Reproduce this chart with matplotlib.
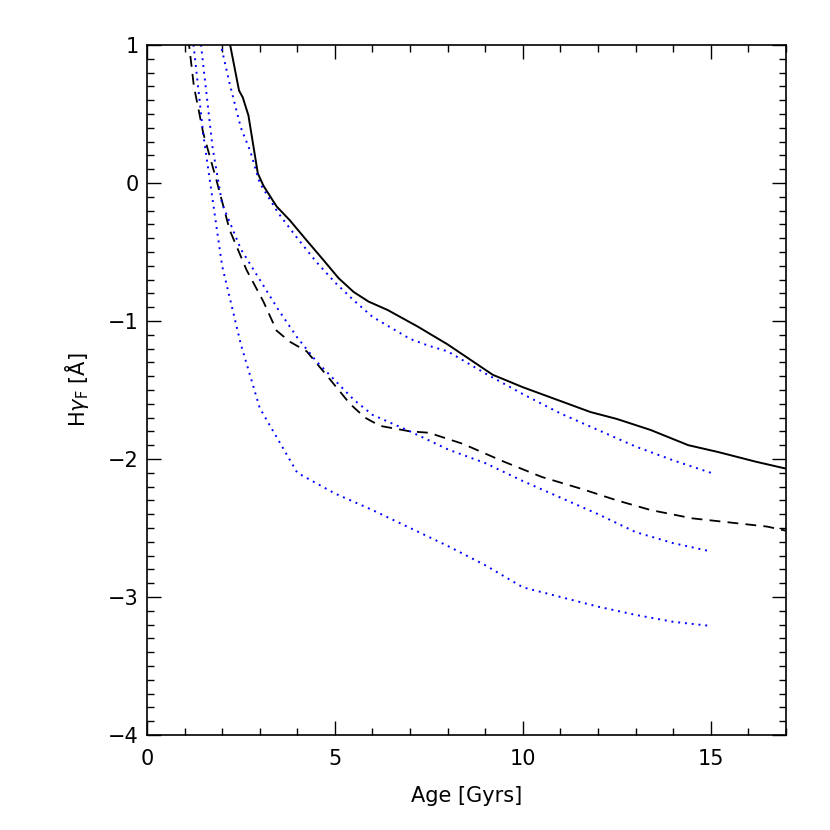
import numpy as np
import matplotlib
matplotlib.use("Agg")
import matplotlib.pyplot as plt
from matplotlib.ticker import MultipleLocator

# modele principal (trait plein)
age_solid = [2.2, 2.45, 2.55, 2.7, 2.95, 3.1, 3.45, 3.8, 4.2, 4.7, 5.1, 5.5, 5.9, 6.4,
             7.2, 8.0, 8.6, 9.2, 10.0, 11.0, 11.8, 12.5, 13.4, 14.4, 15.2, 16.2, 17.0, 17.5]
hg_solid = [1.02, 0.67, 0.62, 0.49, 0.07, -0.02, -0.17, -0.27, -0.40, -0.56, -0.69, -0.79,
            -0.86, -0.92, -1.04, -1.17, -1.28, -1.39, -1.48, -1.58, -1.66, -1.71, -1.79,
            -1.90, -1.95, -2.02, -2.07, -2.10]

# modele tirets
age_dash = [1.1, 1.25, 1.5, 1.85, 2.2, 2.65, 3.1, 3.45, 3.8, 4.25, 4.8, 5.4, 5.8, 6.2,
            7.0, 7.5, 8.4, 9.5, 10.5, 11.6, 12.5, 13.4, 14.5, 15.5, 16.5, 17.0, 17.5]
hg_dash = [1.05, 0.70, 0.36, 0.02, -0.34, -0.63, -0.86, -1.07, -1.15, -1.22, -1.40, -1.60,
           -1.70, -1.76, -1.80, -1.81, -1.89, -2.02, -2.13, -2.22, -2.30, -2.37, -2.43,
           -2.46, -2.49, -2.52, -2.54]

# trois courbes pointillees bleues
age_dot_hi = [1.95, 2.2, 2.5, 2.75, 3.0, 3.5, 4.0, 4.5, 5.0, 5.5, 6.0, 6.5, 7.0, 7.5, 8.0,
              9.0, 10.0, 11.0, 12.0, 13.0, 14.0, 15.0]
hg_dot_hi = [1.02, 0.72, 0.40, 0.23, 0.0, -0.22, -0.40, -0.57, -0.72, -0.85, -0.97, -1.05,
             -1.13, -1.18, -1.22, -1.38, -1.53, -1.67, -1.79, -1.91, -2.01, -2.10]

age_dot_mid = [1.4, 1.5, 1.75, 2.0, 2.5, 3.0, 3.5, 4.0, 4.5, 5.0, 5.5, 6.0, 7.0, 8.0, 9.0,
               10.0, 11.0, 12.0, 13.0, 14.0, 15.0]
hg_dot_mid = [1.1, 0.85, 0.25, -0.15, -0.48, -0.70, -0.92, -1.12, -1.29, -1.43, -1.57,
              -1.68, -1.80, -1.93, -2.03, -2.16, -2.28, -2.40, -2.53, -2.61, -2.67]

age_dot_lo = [1.2, 1.5, 2.0, 2.5, 3.0, 4.0, 5.0, 6.0, 7.0, 8.0, 9.0, 9.5, 10.0, 11.0,
              12.0, 13.0, 14.0, 15.0]
hg_dot_lo = [1.1, 0.35, -0.60, -1.17, -1.63, -2.10, -2.25, -2.37, -2.50, -2.63, -2.77,
             -2.85, -2.93, -3.00, -3.07, -3.13, -3.18, -3.21]

plt.rcParams["font.size"] = 15

fig = plt.figure(figsize=(8.3, 8.3), dpi=100)
ax = fig.add_axes([0.177, 0.1145, 0.770, 0.8313])

ax.plot(age_solid, hg_solid, color="black", lw=1.4)
ax.plot(age_dash, hg_dash, color="black", lw=1.3, dashes=(6, 4))
for a, h in [(age_dot_hi, hg_dot_hi), (age_dot_mid, hg_dot_mid), (age_dot_lo, hg_dot_lo)]:
    ax.plot(a, h, color="#0000ff", lw=1.4, linestyle=(0, (1, 2.5)))

ax.set_xlim(0, 17)
ax.set_ylim(-4, 1)
ax.xaxis.set_major_locator(MultipleLocator(5))
ax.xaxis.set_minor_locator(MultipleLocator(1))
ax.yaxis.set_major_locator(MultipleLocator(1))
ax.yaxis.set_minor_locator(MultipleLocator(0.1))
ax.tick_params(which="both", direction="in", top=True, right=True, width=1)
ax.tick_params(which="major", length=10)
ax.tick_params(which="minor", length=5)
ax.tick_params(axis="x", which="major", pad=10)
ax.tick_params(axis="y", which="major", pad=6)
for s in ax.spines.values():
    s.set_linewidth(1.2)

ax.set_xlabel("Age [Gyrs]", labelpad=12)
ax.set_ylabel(r"H$\gamma_{\rm F}$ [Å]", labelpad=12)

fig.savefig("out.png", dpi=100)
